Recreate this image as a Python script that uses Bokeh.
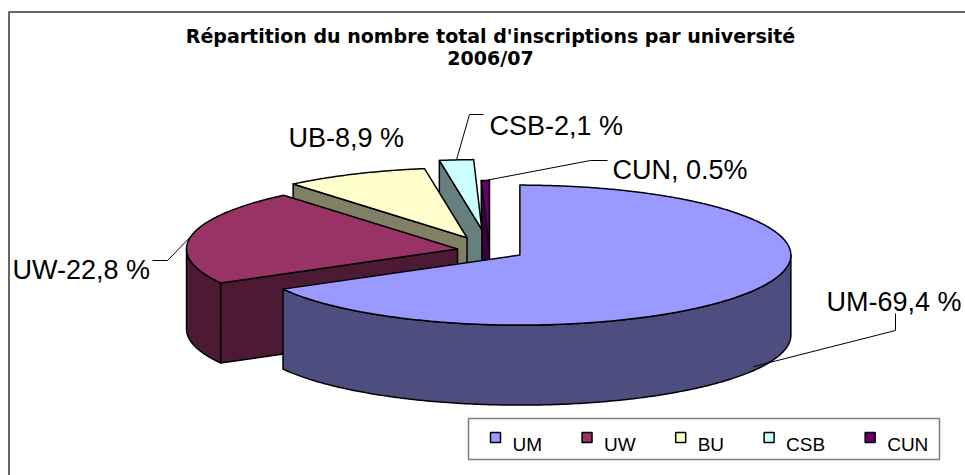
import numpy as np
from bokeh.plotting import figure
from bokeh.models import Range1d, ColumnDataSource
from bokeh.core.properties import value
from bokeh.embed import file_html
from bokeh.resources import INLINE

# ---------------- data ----------------
universities = ["UM", "UW", "BU", "CSB", "CUN"]
shares = [69.4, 22.8, 8.9, 2.1, 0.5]
label_texts = ["UM-69,4 %", "UW-22,8 %", "UB-8,9 %", "CSB-2,1 %", "CUN, 0.5%"]
title_lines = ["Répartition du nombre total d'inscriptions par université", "2006/07"]

# ---------------- style ----------------
top_colors = ["#9999FF", "#993366", "#FFFFCC", "#CCFFFF", "#660066"]
side_colors = ["#4D4D80", "#4D1A33", "#808066", "#668080", "#3D003D"]
explode = [0.13, 0.12, 0.20, 0.30, 0.0]

# pie geometry in page pixels (y downwards, converted below)
CX, CY = 489.0, 250.0
A, B, DEPTH = 271.0, 70.0, 80.0

# label layout (page pixels): text left/baseline, leader start and elbow
label_pos = [(826, 301), (12, 269), (288, 137), (489, 125), (612, 169)]
leader_pts = [[(895, 313), (895, 330)], [(152, 260), (167, 260)], None,
              [(483, 114), (469, 114)], [(607, 160), (590, 160)]]

W, H = 965, 475
p = figure(width=W, height=H, x_range=Range1d(0, W), y_range=Range1d(-H, 0),
           output_backend="svg", toolbar_location=None, min_border=0,
           x_axis_location=None, y_axis_location=None)
p.xgrid.visible = False
p.ygrid.visible = False
p.outline_line_color = None
p.background_fill_color = "white"
p.border_fill_color = "white"


def Y(v):
    return -np.asarray(v, dtype=float)


def rim(cx, cy, th):
    t = np.radians(th)
    return cx + A * np.sin(t), cy - B * np.cos(t)


total = float(sum(shares))
edges = np.concatenate([[0.0], np.cumsum(shares)]) / total * 360.0

polys_x, polys_y, polys_c = [], [], []
anchors = []
mids = []
centers = []
for i in range(len(shares)):
    s, e = edges[i], edges[i + 1]
    m = 0.5 * (s + e)
    mr = np.radians(m)
    cx = CX + explode[i] * A * np.sin(mr)
    cy = CY - explode[i] * B * np.cos(mr)
    mids.append(m)
    centers.append((cx, cy))
    ax, ay = rim(cx, cy, m)
    if np.cos(mr) < 0:
        ay = ay + 0.95 * DEPTH
    anchors.append((ax, ay))

order = sorted(range(len(shares)), key=lambda k: -np.cos(np.radians(mids[k])))
for i in order:
    s, e = edges[i], edges[i + 1]
    cx, cy = centers[i]
    # outer wall (front half)
    lo, hi = max(s, 90.0), min(e, 270.0)
    if lo < hi:
        th = np.linspace(lo, hi, 200)
        rx, ry = rim(cx, cy, th)
        polys_x.append(list(np.concatenate([rx, rx[::-1]])))
        polys_y.append(list(Y(np.concatenate([ry, ry[::-1] + DEPTH]))))
        polys_c.append(side_colors[i])
    # radial walls
    for ang, normal in ((s, s - 90.0), (e, e + 90.0)):
        if np.cos(np.radians(normal)) < -1e-6:
            rx, ry = rim(cx, cy, ang)
            xs = [cx, rx, rx, cx]
            ys = [cy, ry, ry + DEPTH, cy + DEPTH]
            polys_x.append(xs)
            polys_y.append(list(Y(ys)))
            polys_c.append(side_colors[i])
    # top face
    th = np.linspace(s, e, max(3, int((e - s) * 2)))
    rx, ry = rim(cx, cy, th)
    polys_x.append([cx] + list(rx))
    polys_y.append(list(Y([cy] + list(ry))))
    polys_c.append(top_colors[i])

p.patches(xs="xs", ys="ys", fill_color="c", line_color="black", line_width=1.5,
          line_join="round",
          source=ColumnDataSource(dict(xs=polys_x, ys=polys_y, c=polys_c)))

# leader lines
for i, pts in enumerate(leader_pts):
    if pts is None:
        continue
    xs = [pts[0][0], pts[1][0], anchors[i][0]]
    ys = [pts[0][1], pts[1][1], anchors[i][1]]
    p.line(xs, list(Y(ys)), line_color="black", line_width=1)

# data labels
p.text(x=[q[0] for q in label_pos], y=list(Y([q[1] for q in label_pos])), text=label_texts,
       text_font=value("Liberation Sans"), text_font_size="27px", text_color="black",
       text_align="left", text_baseline="alphabetic")

# title
p.text(x=[490, 490], y=list(Y([35, 57])), text=title_lines,
       text_font=value("DejaVu Sans"), text_font_style="bold", text_font_size="19px",
       text_color="black", text_align="center", text_baseline="alphabetic")

# chart border (right and bottom edges lie outside the view)
p.line([8.5, 8.5, 1000], list(Y([500, 11.5, 11.5])), line_color="#333333", line_width=1.5)

# legend
arial = {"U": .722, "M": .833, "W": .944, "B": .667, "C": .722, "S": .667, "N": .722}
leg_font = 19
leg_left, leg_right, leg_top, leg_bottom = 468, 939, 418, 459
p.quad(left=[leg_left], right=[leg_right], top=list(Y([leg_top])), bottom=list(Y([leg_bottom])),
       fill_color="white", line_color="#7F7F7F", line_width=1.5)
mx = []
x0 = 490.0
for name in universities:
    mx.append(x0)
    tw = sum(arial[ch] for ch in name) * leg_font
    x0 = x0 + 22 + tw + 40
p.scatter(x=[v + 5 for v in mx], y=list(Y([437] * len(mx))), marker="square", size=10,
          fill_color=top_colors, line_color="black", line_width=1.5)
p.text(x=[v + 22 for v in mx], y=list(Y([444] * len(mx))), text=universities,
       text_font=value("Liberation Sans"), text_font_size="19px", text_color="black",
       text_align="left", text_baseline="alphabetic")

open("out.html", "w").write(file_html(p, INLINE))
